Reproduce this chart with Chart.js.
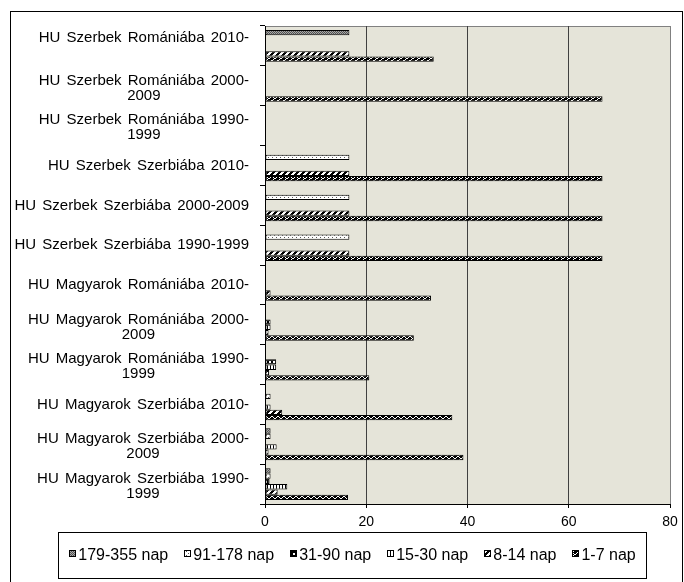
<!DOCTYPE html>
<html><head><meta charset="utf-8">
<script src="https://cdn.jsdelivr.net/npm/chart.js@4.4.0/dist/chart.umd.min.js"></script>
<style>html,body{margin:0;padding:0;background:#fff;}canvas{display:block;}</style>
</head><body>
<canvas id="c" width="684" height="582"></canvas>
<script>
// ---------- data ----------
const categories = [
  "HU Szerbek Romániába 2010-",
  "HU Szerbek Romániába 2000-2009",
  "HU Szerbek Romániába 1990-1999",
  "HU Szerbek Szerbiába 2010-",
  "HU Szerbek Szerbiába 2000-2009",
  "HU Szerbek Szerbiába 1990-1999",
  "HU Magyarok Romániába 2010-",
  "HU Magyarok Romániába 2000-2009",
  "HU Magyarok Romániába 1990-1999",
  "HU Magyarok Szerbiába 2010-",
  "HU Magyarok Szerbiába 2000-2009",
  "HU Magyarok Szerbiába 1990-1999"
];
const seriesNames = ["179-355 nap", "91-178 nap", "31-90 nap", "15-30 nap", "8-14 nap", "1-7 nap"];
const d179_355 = [16.67, 0, 0, 0, 0, 0, 0, 0, 0, 0, 1.1, 1.1];
const d91_178  = [0, 0, 0, 16.67, 16.67, 16.67, 0, 0, 0, 1.1, 1.1, 1.1];
const d31_90   = [0, 0, 0, 0, 0, 0, 0, 1.1, 2.2, 0, 0, 0.9];
const d15_30   = [0, 0, 0, 0, 0, 0, 0, 1.1, 2.2, 1.1, 2.3, 4.4];
const d8_14    = [16.67, 0, 0, 16.67, 16.67, 16.67, 1.1, 0.7, 0.8, 3.4, 0.7, 2.5];
const d1_7     = [33.33, 66.67, 0, 66.67, 66.67, 66.67, 32.8, 29.4, 20.6, 37.0, 39.2, 16.4];
const xTicks = [0, 20, 40, 60, 80];
const seriesValues = [d179_355, d91_178, d31_90, d15_30, d8_14, d1_7];

// ---------- patterns ----------
function makePattern(w, h, bg, fg, pix) {
  const c = document.createElement('canvas'); c.width = w; c.height = h;
  const x = c.getContext('2d');
  x.fillStyle = bg; x.fillRect(0, 0, w, h);
  x.fillStyle = fg; pix.forEach(([a, b]) => x.fillRect(a, b, 1, 1));
  return x.createPattern(c, 'repeat');
}
const diag = []; for (let y = 0; y < 6; y++) for (let x = 0; x < 6; x++) if ((x + y) % 6 < 3) diag.push([x, y]);
const patterns = [
  makePattern(2, 2, '#a8a8a8', '#505050', [[0, 0], [1, 1]]),
  makePattern(4, 4, '#ffffff', '#555555', [[0, 1], [2, 3]]),
  makePattern(4, 4, '#000000', '#ffffff', [[1, 1], [2, 1], [1, 2], [2, 2]]),
  makePattern(3, 1, '#ffffff', '#000000', [[0, 0]]),
  makePattern(6, 6, '#ffffff', '#000000', diag),
  makePattern(6, 4, '#000000', '#ffffff', [[1, 0], [2, 0], [0, 1], [3, 1], [4, 2], [5, 2], [3, 3]])
];

const FONT = '"Liberation Sans", Arial, sans-serif';

function wrapLabel(ctx, s, maxW) {
  if (ctx.measureText(s).width <= maxW) return [s];
  const k = s.lastIndexOf('-', s.length - 2);
  return [s.slice(0, k + 1), s.slice(k + 1)];
}

const framePlugin = {
  id: 'frame',
  beforeDraw(chart) {
    const { ctx, chartArea: a } = chart;
    ctx.save();
    ctx.fillStyle = '#ffffff'; ctx.fillRect(0, 0, chart.width, chart.height);
    ctx.strokeStyle = '#000'; ctx.lineWidth = 1;
    ctx.strokeRect(10.5, 11.5, 672, 590);
    ctx.fillStyle = '#e5e4d9';
    ctx.fillRect(a.left, a.top, a.right - a.left, a.bottom - a.top);
    ctx.strokeStyle = '#808080';
    ctx.strokeRect(Math.round(a.left) + 0.5, Math.round(a.top) + 0.5, Math.round(a.right - a.left), Math.round(a.bottom - a.top));
    ctx.restore();
  },
  afterDraw(chart) {
    const { ctx, chartArea: a } = chart;
    const ys = chart.scales.y;
    ctx.save();
    // category labels
    ctx.font = '15px ' + FONT; ctx.fillStyle = '#000'; ctx.textAlign = 'center'; ctx.textBaseline = 'alphabetic';
    if ('wordSpacing' in ctx) ctx.wordSpacing = '2px';
    const right = a.left - 16, capH = 15 * 0.716, lh = 15;
    categories.forEach((lab, i) => {
      const lines = wrapLabel(ctx, lab, 237);
      const bw = Math.max(...lines.map(l => ctx.measureText(l).width));
      const cx = right - bw / 2;
      const cy = ys.getPixelForValue(i) + (i === 0 ? -8 : 0);
      const n = lines.length;
      lines.forEach((l, k) => {
        const yc = cy + (k - (n - 1) / 2) * lh + (n > 1 ? 1 : -1);
        ctx.fillText(l, cx, yc + capH / 2);
      });
    });
    if ('wordSpacing' in ctx) ctx.wordSpacing = '0px';
    // legend
    const bx = 58.5, by = 532.5, bw = 588, bh = 46;
    ctx.strokeStyle = '#000'; ctx.lineWidth = 1;
    ctx.strokeRect(bx, by, bw, bh);
    ctx.font = '16px ' + FONT; ctx.textAlign = 'left';
    const box = 7, gapT = 2, spacing = 16;
    const widths = seriesNames.map(s => box + gapT + ctx.measureText(s).width);
    const total = widths.reduce((p, q) => p + q, 0) + spacing * (seriesNames.length - 1);
    let x = bx + bw / 2 - total / 2;
    const ly = 554;
    seriesNames.forEach((s, i) => {
      ctx.fillStyle = patterns[i];
      ctx.fillRect(Math.round(x), ly - 4, box, box);
      ctx.strokeStyle = '#000';
      ctx.strokeRect(Math.round(x) + 0.5, ly - 3.5, box - 1, box - 1);
      ctx.fillStyle = '#000';
      ctx.fillText(s, x + box + gapT, ly + 5.7);
      x += widths[i] + spacing;
    });
    ctx.restore();
  }
};

new Chart(document.getElementById('c'), {
  type: 'bar',
  data: {
    labels: categories,
    datasets: seriesNames.map((name, i) => ({
      label: name,
      data: seriesValues[i],
      backgroundColor: patterns[i],
      borderColor: '#000',
      borderWidth: 1,
      borderSkipped: false,
      categoryPercentage: 0.8,
      barPercentage: 1
    }))
  },
  options: {
    responsive: false, animation: false, devicePixelRatio: 1,
    indexAxis: 'y',
    layout: { padding: { left: 0, right: 14, top: 26, bottom: 0 } },
    plugins: { legend: { display: false }, tooltip: { enabled: false } },
    scales: {
      x: {
        min: 0, max: 80,
        afterBuildTicks: s => { s.ticks = xTicks.map(v => ({ value: v })); },
        grid: {
          color: c => (c.tick && (c.tick.value === 0 || c.tick.value === 80)) ? 'rgba(0,0,0,0)' : '#404040',
          tickColor: '#000', tickLength: 4, lineWidth: 1
        },
        border: { display: true, color: '#000' },
        ticks: { font: { family: FONT, size: 14 }, color: '#000', padding: 6, maxRotation: 0 },
        afterFit: s => { s.height = 78; }
      },
      y: {
        grid: { drawOnChartArea: false, tickColor: '#000', tickLength: 5, offset: true },
        border: { display: true, color: '#000' },
        ticks: { display: false },
        afterFit: s => { s.width = 265; }
      }
    }
  },
  plugins: [framePlugin]
});
</script>
</body></html>
